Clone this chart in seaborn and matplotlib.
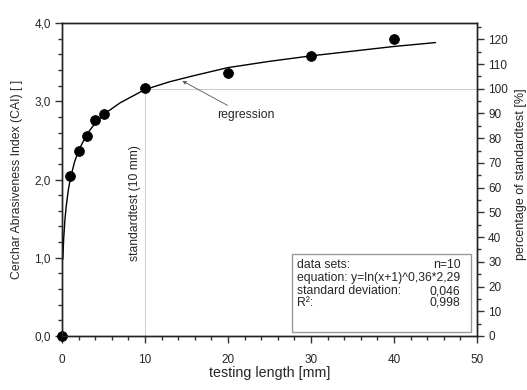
import matplotlib
matplotlib.use('Agg')
import numpy as np
import pandas as pd
import seaborn as sns
from matplotlib import pyplot as plt
from matplotlib.patches import Rectangle
from matplotlib.ticker import MultipleLocator

# 测量数据 (CAI vs testing length)
length_mm = [0, 1, 2, 3, 4, 5, 10, 20, 30, 40]
cai_value = [0.0, 2.05, 2.36, 2.56, 2.76, 2.84, 3.165, 3.365, 3.58, 3.80]

# 回归曲线
reg_x = [0.1, 0.2, 0.35, 0.5, 0.75, 1, 1.5, 2, 3, 4, 5, 7, 10, 13, 16, 20, 25, 30, 35, 40, 45]
reg_y = [0.98, 1.24, 1.485, 1.65, 1.858, 2.01, 2.22, 2.37, 2.58, 2.72, 2.83, 2.98, 3.15,
         3.25, 3.33, 3.43, 3.51, 3.58, 3.64, 3.70, 3.75]

standard_len = 10
standard_cai = 3.16

x_ticks = [0, 10, 20, 30, 40, 50]
y_ticks = [0, 1, 2, 3, 4]
y_ticklabels = ['0,0', '1,0', '2,0', '3,0', '4,0']
pct_ticks = list(range(0, 121, 10))

info_left = ['data sets:', 'equation: y=ln(x+1)^0,36*2,29', 'standard deviation:', 'R²:']
info_right = ['n=10', '', '0,046', '0,998']

sns.set_style('ticks')
plt.rcParams['font.family'] = ['Liberation Sans', 'DejaVu Sans']

fig = plt.figure(figsize=(5.27, 3.9), dpi=100)
ax = fig.add_axes([62 / 527, 54 / 390, 415 / 527, 313 / 390])

df_pts = pd.DataFrame({'x': length_mm, 'y': cai_value})
df_reg = pd.DataFrame({'x': reg_x, 'y': reg_y})

# 标准试验参考线
ax.plot([standard_len, standard_len], [0, standard_cai], color='#cccccc', lw=0.7, zorder=1)
ax.plot([standard_len, 50], [standard_cai, standard_cai], color='#cccccc', lw=0.7, zorder=1)

sns.lineplot(data=df_reg, x='x', y='y', color='black', lw=1.0, ax=ax, zorder=3)
sns.scatterplot(data=df_pts, x='x', y='y', color='black', s=50, edgecolor='black',
                ax=ax, zorder=4, clip_on=False)

ax.set_xlim(0, 50)
ax.set_ylim(0, 4)
ax.set_xticks(x_ticks)
ax.set_xticklabels([str(v) for v in x_ticks])
ax.xaxis.set_minor_locator(MultipleLocator(2))
ax.set_yticks(y_ticks)
ax.set_yticklabels(y_ticklabels)
ax.yaxis.set_minor_locator(MultipleLocator(0.2))
ax.tick_params(axis='both', which='major', length=5, width=1, labelsize=8.5, color='#333333')
ax.tick_params(axis='both', which='minor', length=3, width=1, color='#333333')
ax.tick_params(axis='x', which='major', pad=8)
ax.tick_params(axis='y', which='major', pad=3)

ax.set_xlabel('testing length [mm]', fontsize=10.3)
ax.xaxis.set_label_coords(0.5, -0.096)
ax.set_ylabel('Cerchar Abrasiveness Index (CAI) [ ]', fontsize=8.8)
ax.yaxis.set_label_coords(-0.094, 0.50)

for s in ax.spines.values():
    s.set_color('#222222')
    s.set_linewidth(1.0)

# 右侧百分比轴
ax2 = ax.twinx()
ax2.set_ylim(0, 4 / standard_cai * 100)
ax2.set_yticks(pct_ticks)
ax2.set_yticklabels([str(v) for v in pct_ticks])
ax2.yaxis.set_minor_locator(MultipleLocator(5))
ax2.tick_params(axis='y', which='major', length=5, width=1, labelsize=8.5, pad=3, color='#333333')
ax2.tick_params(axis='y', which='minor', length=3, width=1, color='#333333')
ax2.set_ylabel('percentage of standardtest [%]', fontsize=9.0)
ax2.yaxis.set_label_coords(1.092, 0.518)
for s in ax2.spines.values():
    s.set_color('#222222')
    s.set_linewidth(1.0)

# 注释
ax.text(8.8, 1.70, 'standardtest (10 mm)', rotation=90, ha='center', va='center', fontsize=8.7)
ax.annotate('regression', xy=(14.5, 3.26), xytext=(18.7, 2.82), ha='left', va='center',
            fontsize=8.8,
            arrowprops=dict(arrowstyle='-|>', color='#555555', lw=0.6, mutation_scale=5,
                            shrinkA=1, shrinkB=0))

# 信息框
ax.add_patch(Rectangle((27.7, 0.05), 21.6, 1.0, facecolor='white', edgecolor='#999999',
                       lw=1.0, zorder=5))
row_y = [0.907, 0.741, 0.575, 0.422]
for yy, lt, rt in zip(row_y, info_left, info_right):
    ax.text(28.3, yy, lt, ha='left', va='center', fontsize=8.8, zorder=6)
    if rt:
        ax.text(48.0, yy, rt, ha='right', va='center', fontsize=8.8, zorder=6)

fig.savefig('out.png', dpi=100)
